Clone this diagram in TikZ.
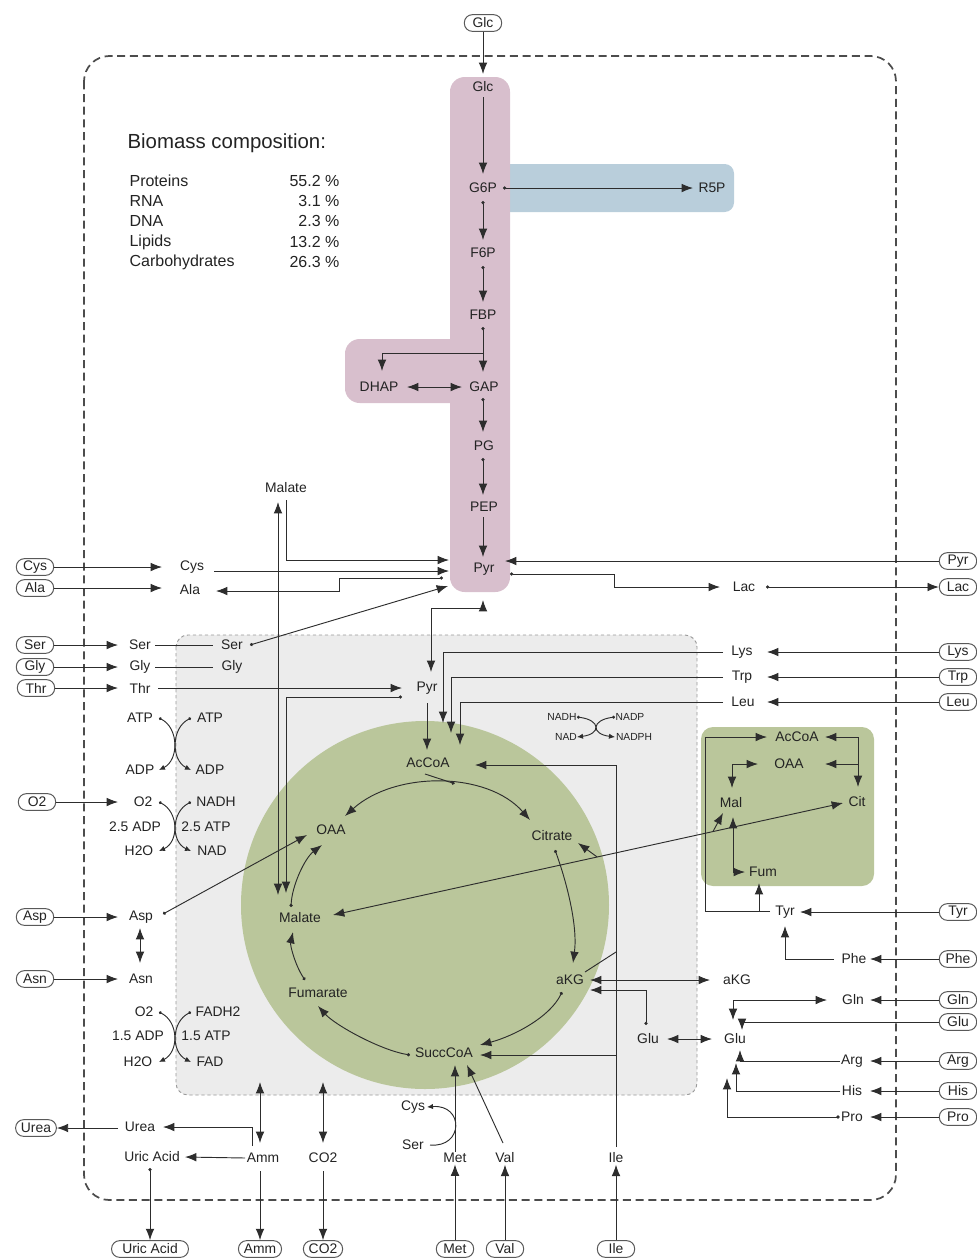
\documentclass[tikz,border=0pt]{standalone}
\usepackage{fontspec}
\setmainfont{Liberation Sans}
\usetikzlibrary{arrows.meta,calc}
\definecolor{pinkc}{RGB}{216,191,205}
\definecolor{bluec}{RGB}{185,206,219}
\definecolor{greenc}{RGB}{186,198,155}
\definecolor{grayc}{RGB}{236,236,236}
\definecolor{txtc}{RGB}{35,35,35}
\definecolor{linec}{RGB}{45,45,45}
\begin{document}
\begin{tikzpicture}[x=0.75pt,y=-0.75pt,
 lbl/.style={font=\fontsize{10.4}{12}\selectfont, text=txtc, inner sep=1pt},
 sml/.style={font=\fontsize{7.7}{9}\selectfont, text=txtc, inner sep=0.5pt},
 ext/.style={lbl, draw=black!65, line width=0.75pt, rounded corners=6pt, inner xsep=4pt, inner ysep=1.5pt, minimum height=12.5pt, minimum width=28pt},
 ln/.style={draw=linec, line width=0.7pt},
 arr/.style={ln, -{Latex[length=8.5pt,width=6.5pt]}},
 darr/.style={ln, {Latex[length=8.5pt,width=6.5pt]}-{Latex[length=8.5pt,width=6.5pt]}},
 dotarr/.style={ln, {Circle[length=2.4pt]}-{Latex[length=8.5pt,width=6.5pt]}},
 engy/.style={ln, {Circle[length=2.2pt]}-{Latex[length=4.5pt,width=4pt]}},
 ]
\useasboundingbox (0,0) rectangle (977,1258);

% ---------- backgrounds ----------
\draw[black!70, line width=1.3pt, dash pattern=on 6pt off 3.5pt, rounded corners=19pt] (84,56) rectangle (896,1200);
\draw[fill=grayc, draw=black!40, line width=0.7pt, dash pattern=on 2.5pt off 2pt, rounded corners=9pt] (176,635) rectangle (697,1095);
\fill[greenc] (425,905) circle[radius=138pt];
\fill[greenc, rounded corners=9pt] (701,727) rectangle (874,886);
\fill[bluec, rounded corners=7pt] (495,164) rectangle (734,212);
\fill[pinkc, rounded corners=11pt] (345,339) rectangle (470,403);
\fill[pinkc, rounded corners=11pt] (450,77) rectangle (510,592);

% ---------- biomass ----------
\node[anchor=west, font=\fontsize{15.3}{18}\selectfont, text=txtc, inner sep=1pt] (bT) at (126,143) {Biomass composition:};
\begin{scope}[every node/.style={font=\fontsize{12}{14}\selectfont, text=txtc, inner sep=1pt}]
\node[anchor=west] (b1) at (128,181) {Proteins};
\node[anchor=west] (b2) at (128,201) {RNA};
\node[anchor=west] (b3) at (128,221) {DNA};
\node[anchor=west] (b4) at (128,242) {Lipids};
\node[anchor=west] (b5) at (128,262) {Carbohydrates};
\node[anchor=east] (v1) at (341,181) {55.2 \%};
\node[anchor=east] (v2) at (341,201) {3.1 \%};
\node[anchor=east] (v3) at (341,221) {2.3 \%};
\node[anchor=east] (v4) at (341,242) {13.2 \%};
\node[anchor=east] (v5) at (341,262) {26.3 \%};
\end{scope}

% ---------- external boxes ----------
\node[ext] (xGlc) at (483,23) {Glc};
\node[ext] (xCys) at (35,567) {Cys};
\node[ext] (xAla) at (35,588) {Ala};
\node[ext] (xSer) at (35,645) {Ser};
\node[ext] (xGly) at (35,667) {Gly};
\node[ext] (xThr) at (36,688) {Thr};
\node[ext] (xO2) at (37,802) {O2};
\node[ext] (xAsp) at (35,917) {Asp};
\node[ext] (xAsn) at (35,979) {Asn};
\node[ext] (xUrea) at (36,1128) {Urea};
\node[ext, inner xsep=8pt] (xUric) at (150,1249) {Uric Acid};
\node[ext] (xAmm) at (260,1249) {Amm};
\node[ext] (xCO2) at (323,1249) {CO2};
\node[ext] (xMet) at (455,1249) {Met};
\node[ext] (xVal) at (505,1249) {Val};
\node[ext] (xIle) at (616,1249) {Ile};
\node[ext] (xPyr) at (958,561) {Pyr};
\node[ext] (xLac) at (958,587) {Lac};
\node[ext] (xLys) at (958,652) {Lys};
\node[ext] (xTrp) at (958,677) {Trp};
\node[ext] (xLeu) at (958,702) {Leu};
\node[ext] (xTyr) at (958,912) {Tyr};
\node[ext] (xPhe) at (958,959) {Phe};
\node[ext] (xGln) at (958,1000) {Gln};
\node[ext] (xGlu) at (958,1022) {Glu};
\node[ext] (xArg) at (958,1061) {Arg};
\node[ext] (xHis) at (958,1091) {His};
\node[ext] (xPro) at (958,1117) {Pro};

% ---------- glycolysis ----------
\node[lbl] (gGlc) at (483,87) {Glc};
\node[lbl] (gG6P) at (483,188) {G6P};
\node[lbl] (gF6P) at (483,253) {F6P};
\node[lbl] (gFBP) at (483,315) {FBP};
\node[lbl] (gGAP) at (484,387) {GAP};
\node[lbl] (gDHAP) at (379,387) {DHAP};
\node[lbl] (gPG) at (484,446) {PG};
\node[lbl] (gPEP) at (484,507) {PEP};
\node[lbl] (gPyr) at (484,569) {Pyr};
\node[lbl] (gR5P) at (712,188) {R5P};

% ---------- cytosol ----------
\node[lbl] (cCys) at (192,567) {Cys};
\node[lbl] (cAla) at (190,590) {Ala};
\node[lbl] (cMalate) at (286,488) {Malate};
\node[lbl] (cSer1) at (140,645) {Ser};
\node[lbl] (cSer2) at (232,645) {Ser};
\node[lbl] (cGly1) at (140,667) {Gly};
\node[lbl] (cGly2) at (232,667) {Gly};
\node[lbl] (cThr) at (140,688) {Thr};
\node[lbl] (cAsp) at (141,917) {Asp};
\node[lbl] (cAsn) at (141,979) {Asn};
\node[lbl] (cUrea) at (140,1127) {Urea};
\node[lbl] (cUric) at (152,1157) {Uric Acid};
\node[lbl] (cAmm) at (263,1158) {Amm};
\node[lbl] (cCO2) at (323,1158) {CO2};
\node[lbl] (cCys2) at (413,1107) {Cys};
\node[lbl] (cSer3) at (413,1145) {Ser};
\node[lbl] (cMet) at (455,1158) {Met};
\node[lbl] (cVal) at (505,1158) {Val};
\node[lbl] (cIle) at (616,1158) {Ile};
\node[lbl] (cLac) at (744,587) {Lac};
\node[lbl] (cLys) at (742,652) {Lys};
\node[lbl] (cTrp) at (742,677) {Trp};
\node[lbl] (cLeu) at (743,702) {Leu};
\node[lbl] (cTyr) at (785,912) {Tyr};
\node[lbl] (cPhe) at (854,959) {Phe};
\node[lbl] (cGln) at (853,1000) {Gln};
\node[lbl] (caKG) at (737,980) {aKG};
\node[lbl] (cGlu) at (735,1039) {Glu};
\node[lbl] (cArg) at (852,1061) {Arg};
\node[lbl] (cHis) at (852,1091) {His};
\node[lbl] (cPro) at (852,1117) {Pro};

% ---------- mitochondrion ----------
\node[lbl] (mPyr) at (427,688) {Pyr};
\node[lbl] (mAcCoA) at (428,763) {AcCoA};
\node[lbl] (mOAA) at (331,830) {OAA};
\node[lbl] (mCit) at (552,836) {Citrate};
\node[lbl] (maKG) at (570,980) {aKG};
\node[lbl] (mSucc) at (444,1053) {SuccCoA};
\node[lbl] (mFum) at (318,993) {Fumarate};
\node[lbl] (mMal) at (300,918) {Malate};
\node[lbl] (mGlu) at (648,1039) {Glu};

% ---------- green box ----------
\node[lbl] (gAcCoA) at (797,737) {AcCoA};
\node[lbl] (gOAA) at (789,764) {OAA};
\node[lbl] (gMal) at (731,803) {Mal};
\node[lbl] (gCit) at (857,802) {Cit};
\node[lbl] (gFum) at (763,872) {Fum};

% ---------- energy icons ----------
\coordinate (ic1) at (175,744);
\node[lbl] (eATP1) at (140,718) {ATP};
\node[lbl] (eADP1) at (140,770) {ADP};
\node[lbl] (eATP2) at (210,718) {ATP};
\node[lbl] (eADP2) at (210,770) {ADP};
\draw[engy] ($(ic1)+(-16,-26)$) .. controls ($(ic1)+(4,-16)$) and ($(ic1)+(4,16)$) .. ($(ic1)+(-16,26)$);
\draw[engy] ($(ic1)+(16,-26)$) .. controls ($(ic1)+(-4,-16)$) and ($(ic1)+(-4,16)$) .. ($(ic1)+(16,26)$);

\coordinate (ic2) at (175,827);
\node[lbl] (eO2a) at (143,802) {O2};
\node[lbl] (eNADH) at (216,802) {NADH};
\node[lbl] (eADPb) at (135,827) {2.5 ADP};
\node[lbl] (eATPb) at (206,827) {2.5 ATP};
\node[lbl] (eH2Oa) at (139,851) {H2O};
\node[lbl] (eNAD) at (212,851) {NAD};
\draw[engy] ($(ic2)+(-16,-25)$) .. controls ($(ic2)+(4,-15)$) and ($(ic2)+(4,15)$) .. ($(ic2)+(-16,24)$);
\draw[engy] ($(ic2)+(16,-25)$) .. controls ($(ic2)+(-4,-15)$) and ($(ic2)+(-4,15)$) .. ($(ic2)+(16,24)$);

\coordinate (ic3) at (175,1037);
\node[lbl] (eO2b) at (144,1012) {O2};
\node[lbl] (eFADH) at (218,1012) {FADH2};
\node[lbl] (eADPc) at (138,1036) {1.5 ADP};
\node[lbl] (eATPc) at (206,1036) {1.5 ATP};
\node[lbl] (eH2Ob) at (138,1062) {H2O};
\node[lbl] (eFAD) at (210,1062) {FAD};
\draw[engy] ($(ic3)+(-16,-25)$) .. controls ($(ic3)+(4,-15)$) and ($(ic3)+(4,15)$) .. ($(ic3)+(-16,25)$);
\draw[engy] ($(ic3)+(16,-25)$) .. controls ($(ic3)+(-4,-15)$) and ($(ic3)+(-4,15)$) .. ($(ic3)+(16,25)$);

\coordinate (ic4) at (596,727);
\node[sml] (sNADH) at (562,717) {NADH};
\node[sml] (sNADP) at (630,717) {NADP};
\node[sml] (sNAD) at (566,737) {NAD};
\node[sml] (sNADPH) at (634,737) {NADPH};
\draw[engy] ($(ic4)+(-19,-10)$) .. controls ($(ic4)+(5,-7)$) and ($(ic4)+(5,7)$) .. ($(ic4)+(-19,10)$);
\draw[engy] ($(ic4)+(19,-10)$) .. controls ($(ic4)+(-5,-7)$) and ($(ic4)+(-5,7)$) .. ($(ic4)+(19,10)$);

% ---------- glycolysis connectors ----------
\draw[arr] (xGlc) -- ($(gGlc)+(0,-13)$);
\draw[arr] ($(gGlc)+(0,10)$) -- ($(gG6P)+(0,-14)$);
\draw[dotarr] ($(gG6P)+(0,13)$) -- ($(gF6P)+(0,-13)$);
\draw[dotarr] ($(gF6P)+(0,13)$) -- ($(gFBP)+(0,-13)$);
\draw[dotarr] ($(gFBP)+(0,12)$) -- coordinate[pos=0.58] (fbpJ) ($(gGAP)+(-1,-15)$);
\draw[arr] (fbpJ) -| ($(gDHAP)+(3,-16)$);
\draw[darr] ($(gDHAP)+(28,0)$) -- ($(gGAP)+(-22,0)$);
\draw[dotarr] ($(gGAP)+(-1,11)$) -- ($(gPG)+(-1,-14)$);
\draw[dotarr] ($(gPG)+(-1,12)$) -- ($(gPEP)+(-1,-12)$);
\draw[arr] ($(gPEP)+(-1,10)$) -- ($(gPyr)+(-1,-12)$);
\draw[dotarr] ($(gG6P)+(20,0)$) -- ($(gR5P)+(-19,0)$);

% ---------- cytosol connectors ----------
\draw[arr] (xCys.east) -- ($(cCys)+(-30,0)$);
\draw[arr] (xAla.east) -- ($(cAla)+(-28,-2)$);
\draw[arr] ($(cMalate)+(0,12)$) |- ($(gPyr)+(-35,-9)$);
\draw[arr] ($(cCys)+(22,4)$) -- ($(gPyr)+(-35,2)$);
\draw[dotarr] ($(gPyr)+(-41,9)$) -- ($(gPyr)+(-145,9)$) |- ($(cAla)+(26,1)$);
\draw[dotarr] ($(cSer2)+(18,0)$) -- ($(gPyr)+(-36,17)$);
\draw[darr] ($(cMalate)+(-8,14)$) -- ($(mMal)+(-22,-23)$);
\draw[arr] (xSer.east) -- ($(cSer1)+(-22,0)$);
\draw[arr] (xGly.east) -- ($(cGly1)+(-22,0)$);
\draw[arr] (xThr.east) -- ($(cThr)+(-22,0)$);
\draw[ln] ($(cSer1)+(15,0)$) -- ($(cSer2)+(-19,0)$);
\draw[ln] ($(cGly1)+(15,0)$) -- ($(cGly2)+(-19,0)$);
\draw[arr] ($(cThr)+(18,0)$) -- ($(mPyr)+(-25,0)$);
\draw[arr] (xO2.east) -- ($(eO2a)+(-25,0)$);
\draw[arr] (xAsp.east) -- ($(cAsp)+(-23,0)$);
\draw[arr] (xAsn.east) -- ($(cAsn)+(-23,0)$);
\draw[dotarr] ($(cAsp)+(22,-3)$) -- ($(mOAA)+(-24,5)$);
\draw[darr] ($(cAsp)+(-1,11)$) -- ($(cAsn)+(-1,-16)$);

% Pyr cytosol <-> mito
\draw[darr] ($(gPyr)+(-1,31)$) |- ($(mPyr)+(4,-80)$) -- ($(mPyr)+(4,-16)$);
\draw[dotarr] ($(mPyr)+(-25,9)$) -| ($(mMal)+(-14,-25)$);
\draw[arr] ($(mPyr)+(0,15)$) -- ($(mAcCoA)+(-1,-13)$);

% right side
\draw[arr] (xPyr.west) -- ($(gPyr)+(21,-8)$);
\draw[dotarr] ($(gPyr)+(26,5)$) -- ($(gPyr)+(130,5)$) |- ($(cLac)+(-24,0)$);
\draw[dotarr] ($(cLac)+(22,0)$) -- (xLac.west);
\draw[arr] (xLys.west) -- ($(cLys)+(25,0)$);
\draw[arr] (xTrp.west) -- ($(cTrp)+(25,0)$);
\draw[arr] (xLeu.west) -- ($(cLeu)+(24,0)$);
\draw[arr] ($(cLys)+(-19,0)$) -| ($(mAcCoA)+(15,-40)$);
\draw[arr] ($(cTrp)+(-19,0)$) -| ($(mAcCoA)+(23,-30)$);
\draw[arr] ($(cLeu)+(-20,0)$) -| ($(mAcCoA)+(32,-18)$);

% TCA cycle
\draw[darr] ($(mOAA)+(14,-14)$) .. controls ($(mOAA)+(64,-59)$) and ($(mOAA)+(156,-59)$) .. coordinate[pos=0.57] (tcaJ) ($(mCit)+(-22,-16)$);
\draw[ln, -{Circle[length=2.4pt]}] ($(mAcCoA)+(-3,11)$) -- (tcaJ);
\draw[dotarr] ($(mCit)+(3,14)$) .. controls ($(mCit)+(14,44)$) and ($(maKG)+(8,-55)$) .. ($(maKG)+(3,-17)$);
\draw[dotarr] ($(maKG)+(-8,12)$) .. controls ($(maKG)+(-20,37)$) and ($(mSucc)+(70,-17)$) .. ($(mSucc)+(36,-8)$);
\draw[dotarr] ($(mSucc)+(-34,2)$) .. controls ($(mSucc)+(-64,-3)$) and ($(mFum)+(17,32)$) .. ($(mFum)+(0,13)$);
\draw[dotarr] ($(mFum)+(-13,-13)$) .. controls ($(mFum)+(-23,-28)$) and ($(mMal)+(-10,27)$) .. ($(mMal)+(-7,14)$);
\draw[dotarr] ($(mMal)+(-9,-11)$) .. controls ($(mMal)+(-8,-33)$) and ($(mOAA)+(-26,28)$) .. ($(mOAA)+(-9,15)$);

% citrate/malate shuttle
\draw[darr] ($(mMal)+(33,-3)$) -- coordinate[pos=0.518] (J1) coordinate[pos=0.745] (J2) ($(gCit)+(-14,1)$);
\draw[arr] (J1) -- ($(mCit)+(26,7)$);
\draw[arr] (J2) -- ($(gMal)+(-8,10)$);

% Ile, Met, Val
\draw[arr] (xIle) -- (cIle);
\draw[arr] ($(cIle)+(0,-11)$) |- ($(mAcCoA)+(47,2)$);
\draw[arr] ($(cIle)+(0,-103)$) -- ($(mSucc)+(36,2)$);
\draw[ln] ($(cIle)+(0,-206)$) -- ($(maKG)+(15,-8)$);
\draw[arr] (xMet) -- (cMet);
\draw[arr] (cMet) -- ($(mSucc)+(11,12)$);
\draw[arr] (xVal) -- (cVal);
\draw[arr] ($(cVal)+(-2,-15)$) -- ($(mSucc)+(23,12)$);
\draw[ln, -{Latex[length=4.5pt,width=4pt]}] ($(cSer3)+(17,0)$) .. controls ($(cSer3)+(51,3)$) and ($(cCys2)+(51,-3)$) .. ($(cCys2)+(14,0)$);

% Amm, CO2, Urea, Uric acid
\draw[darr] ($(cAmm)+(-3,-76)$) -- ($(cAmm)+(-3,-15)$);
\draw[darr] ($(cCO2)+(0,-76)$) -- ($(cCO2)+(0,-15)$);
\draw[arr] ($(cAmm)+(-3,13)$) -- (xAmm);
\draw[arr] ($(cCO2)+(0,13)$) -- (xCO2);
\draw[arr] (cAmm.west) -- ($(cUric)+(33,0)$);
\draw[arr] ($(cAmm)+(-11,-12)$) |- ($(cUrea)+(23,0)$);
\draw[arr] ($(cUrea)+(-22,1)$) -- (xUrea.east);
\draw[dotarr] ($(cUric)+(-2,11)$) -- (xUric.north);

% green box connectors
\draw[arr] ($(cTyr)+(-15,-1)$) -| ($(gAcCoA)+(-92,0)$) -- ($(gAcCoA)+(-30,0)$);
\draw[arr] ($(cTyr)+(-26,-1)$) -- ($(gFum)+(-4,11)$);
\draw[darr] ($(gAcCoA)+(28,0)$) -| ($(gCit)+(1,-15)$);
\draw[arr] ($(gCit)+(1,-38)$) -- ($(gOAA)+(36,0)$);
\draw[darr] ($(gOAA)+(-31,0)$) -| ($(gMal)+(1,-15)$);
\draw[darr] ($(gMal)+(2,14)$) |- ($(gFum)+(-18,0)$);
\draw[arr] (xTyr.west) -- ($(cTyr)+(15,0)$);
\draw[arr] (xPhe.west) -- ($(cPhe)+(16,0)$);
\draw[arr] ($(cPhe)+(-20,0)$) -| ($(cTyr)+(0,14)$);

% aKG / Glu
\draw[darr] ($(maKG)+(20,0)$) -- ($(caKG)+(-27,0)$);
\draw[dotarr] ($(mGlu)+(-2,-14)$) |- ($(maKG)+(20,10)$);
\draw[darr] ($(mGlu)+(19,0)$) -- ($(cGlu)+(-23,0)$);
\draw[arr] (xGln.west) -- ($(cGln)+(17,0)$);
\draw[darr] ($(cGln)+(-26,0)$) -| ($(cGlu)+(-2,-19)$);
\draw[arr] (xGlu.west) -| ($(cGlu)+(7,-9)$);
\draw[arr] (xArg.west) -- ($(cArg)+(18,0)$);
\draw[arr] (cArg.west) -| ($(cGlu)+(5,11)$);
\draw[arr] (xHis.west) -- ($(cHis)+(18,0)$);
\draw[arr] (cHis.west) -| ($(cGlu)+(1,24)$);
\draw[arr] (xPro.west) -- ($(cPro)+(18,0)$);
\draw[dotarr] (cPro.west) -| ($(cGlu)+(-8,39)$);
\end{tikzpicture}
\end{document}
